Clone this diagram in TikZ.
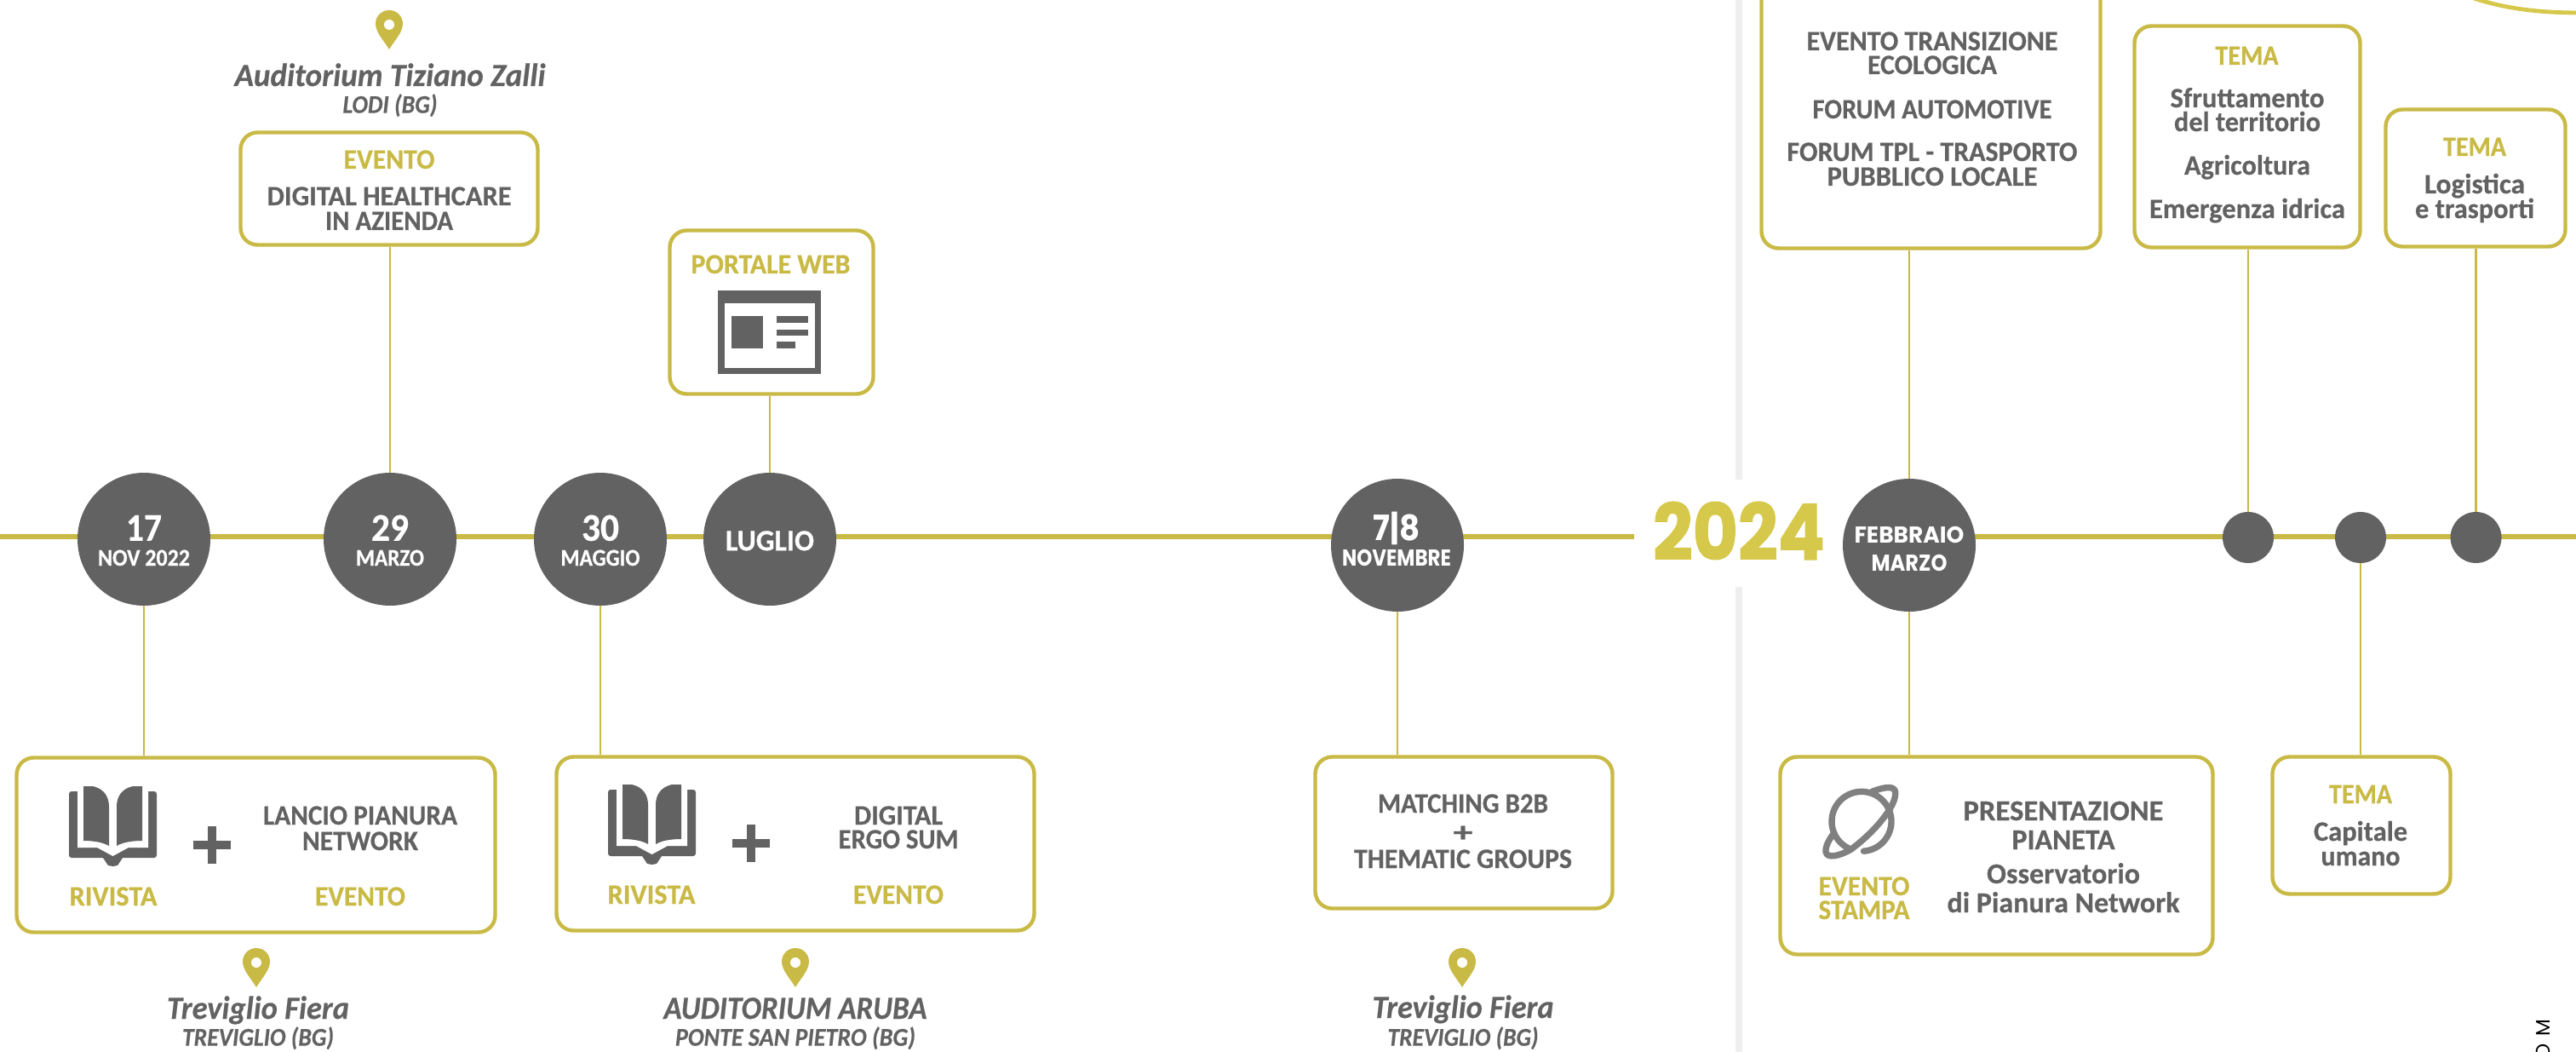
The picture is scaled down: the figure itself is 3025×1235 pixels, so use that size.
\documentclass[tikz,border=0pt]{standalone}
\usepackage{fontspec}
\usepackage{graphicx}
\setmainfont{Carlito}[BoldFeatures={FakeBold=0.5},BoldItalicFeatures={FakeBold=0.5}]
\newfontfamily\popfont{Poppins}
\newfontfamily\popheavy{Poppins}[BoldFeatures={FakeBold=1.5}]
\definecolor{gold}{HTML}{C9B945}
\definecolor{goldb}{HTML}{D6C84A}
\definecolor{dk}{HTML}{626262}
\definecolor{planetc}{HTML}{808080}
\definecolor{rule}{HTML}{EEEEEE}
\newcommand\fitw[2]{\resizebox{\dimexpr#1pt/2\relax}{\height}{#2}}
\newcommand\lbl[6][main]{\node[lbl,#1] (#2) at (#3,#4) {\fitw{#5}{#6}};}
\newcommand\boxn[5]{\node[bx,minimum width={(#4-#2-3)*0.5pt},minimum height={(#5-#3-3)*0.5pt}] (#1) at ({(#2+#4)/2},{(#3+#5)/2}) {};}
\tikzset{
  lbl/.style={inner sep=0pt,anchor=base},
  main/.style={font=\fontsize{16.5}{16.5}\selectfont\bfseries,yshift=-5.5pt,text=dk},
  goldt/.style={main,text=gold},
  pres/.style={font=\fontsize{17}{17}\selectfont\bfseries,yshift=-5.5pt,text=dk},
  numl/.style={font=\fontsize{23}{23}\selectfont\bfseries,yshift=-7.4pt,text=white},
  subl/.style={font=\fontsize{14}{14}\selectfont\bfseries,yshift=-4.5pt,text=white},
  lugl/.style={font=\fontsize{17.5}{17.5}\selectfont\bfseries,yshift=-5.6pt,text=white},
  bigit/.style={font=\fontsize{19}{19}\selectfont\bfseries\itshape,yshift=-6pt,text=dk},
  smit/.style={font=\fontsize{15}{15}\selectfont\bfseries\itshape,yshift=-4.8pt,text=dk},
  mont/.style={font=\fontsize{13.5}{13.5}\selectfont\popfont\bfseries,yshift=-4.7pt,text=white},
  montn/.style={font=\fontsize{20.5}{20.5}\selectfont\popfont\bfseries,yshift=-7.2pt,text=white},
  bx/.style={draw=gold,line width=2.2pt,rounded corners=10pt,inner sep=0pt,fill=white},
  dot/.style={circle,fill=dk,inner sep=0pt,minimum size=#1*0.5pt},
  tline/.style={draw=gold,line width=2.6pt},
  conn/.style={draw=gold,line width=1.1pt},
  pin/.pic={
    \fill[gold] (0,46) .. controls (-6,36) and (-16,26) .. (-16,16)
      .. controls (-16,7) and (-9,0) .. (0,0)
      .. controls (9,0) and (16,7) .. (16,16)
      .. controls (16,26) and (6,36) .. (0,46) -- cycle;
    \fill[white] (0,17) circle[radius=3pt];
  },
  book/.pic={
    \fill[dk,rounded corners=1.5pt] (0,6) rectangle (103,84);
    \fill[dk] (40,84) -- (46,93) -- (51.5,94) -- (57,93) -- (63,84) -- cycle;
    \fill[white] (10,5) -- (93,5) -- (93,72) -- (70,72) -- (51.5,82) -- (33,72) -- (10,72) -- cycle;
    \fill[dk] (17,0) -- (28,0) .. controls (41,3) and (47,12) .. (47,24) -- (47,70)
      .. controls (40,66) and (30,64) .. (17,64) -- cycle;
    \fill[dk] (86,0) -- (75,0) .. controls (62,3) and (56,12) .. (56,24) -- (56,70)
      .. controls (63,66) and (73,64) .. (86,64) -- cycle;
  }
}
\begin{document}
\begin{tikzpicture}[x=0.5pt,y=-0.5pt]
\useasboundingbox (0,0) rectangle (3025,1235);
% separators
\coordinate (ruleA) at (2042,-5);
\coordinate (ruleB) at (2042,563);
\coordinate (ruleC) at (2042,689);
\coordinate (ruleD) at (2042,1240);
\draw[rule,line width=4pt] (ruleA) -- (ruleB);
\draw[rule,line width=4pt] (ruleC) -- (ruleD);
% timeline
\coordinate (tA) at (0,630);
\coordinate (tB) at (1919,630);
\coordinate (tC) at (2242,630);
\coordinate (tD) at (3025,630);
\draw[tline] (tA) -- (tB);
\draw[tline] (tC) -- (tD);
% arc top right
\coordinate (arcA) at (2905,-2);
\coordinate (arcB) at (3030,15);
\draw[goldb,line width=2.4pt] (arcA) .. controls (2945,11) and (2985,15) .. (arcB);
% circles
\node[dot=156] (c17) at (169,633) {};
\node[dot=156] (c29) at (458,633) {};
\node[dot=156] (c30) at (705,633) {};
\node[dot=156] (clug) at (904,633) {};
\node[dot=156] (cnov) at (1641,640) {};
\node[dot=156] (cfeb) at (2242,640) {};
\node[dot=60] (d1) at (2640,631) {};
\node[dot=60] (d2) at (2772,631) {};
\node[dot=60] (d3) at (2907.5,631) {};
% boxes
\boxn{bnov22}{18}{888}{583}{1096}
\boxn{bmag}{652}{887}{1216}{1094}
\boxn{bmar}{281}{154}{633}{289}
\boxn{bweb}{785}{269}{1027}{464}
\boxn{bnov}{1543}{887}{1895}{1068}
\boxn{bevt}{2067}{-40}{2468}{293}
\boxn{bsfr}{2505}{29}{2773}{292}
\boxn{blog}{2800}{127}{3014}{291}
\boxn{bpres}{2089}{887}{2600}{1122}
\boxn{bcap}{2667}{887}{2879}{1051}
% connectors
\draw[conn] (c17.south) -- (bnov22.north -| c17.south);
\draw[conn] (c29.north) -- (bmar.south -| c29.north);
\draw[conn] (c30.south) -- (bmag.north -| c30.south);
\draw[conn] (clug.north) -- (bweb.south -| clug.north);
\draw[conn] (cnov.south) -- (bnov.north -| cnov.south);
\draw[conn] (cfeb.north) -- (bevt.south -| cfeb.north);
\draw[conn] (cfeb.south) -- (bpres.north -| cfeb.south);
\draw[conn] (d1.north) -- (bsfr.south -| d1.north);
\draw[conn] (d2.south) -- (bcap.north -| d2.south);
\draw[conn] (d3.north) -- (blog.south -| d3.north);
% circle labels
\lbl[numl]{t17}{169}{620}{42}{17}
\lbl[subl]{tnov22}{169}{655}{108}{NOV 2022}
\lbl[numl]{t29}{458}{620}{44}{29}
\lbl[subl]{tmarzo}{458}{655}{80}{MARZO}
\lbl[numl]{t30}{705}{620}{44}{30}
\lbl[subl]{tmaggio}{705}{655}{93}{MAGGIO}
\lbl[lugl]{tluglio}{904}{635}{104}{LUGLIO}
\lbl[montn]{t78}{1640}{620}{55}{7|8}
\lbl[mont]{tnovem}{1640}{655}{128}{NOVEMBRE}
\lbl[mont]{tfeb}{2242}{628}{129}{FEBBRAIO}
\lbl[mont]{tmar}{2242}{661}{89}{MARZO}
% 2024
\node[lbl,font=\fontsize{45.5}{45.5}\selectfont\popheavy\bfseries,text=goldb,yshift=-16pt] (y2024) at (2042,625) {\fitw{202}{2024}};
% box 1
\pic at (81,923) {book};
\fill[dk] (227,987) rectangle (271,997);
\fill[dk] (244,970) rectangle (254,1014);
\lbl{tlancio}{423}{957}{228}{LANCIO PIANURA}
\lbl{tnetw}{423}{987}{136}{NETWORK}
\lbl[goldt]{trv1}{133}{1052}{103}{RIVISTA}
\lbl[goldt]{tev1}{423}{1052}{106}{EVENTO}
\pic at (301,1113) {pin};
\lbl[bigit]{ttf1}{303}{1184}{214}{Treviglio Fiera}
\lbl[smit]{ttb1}{303}{1218}{178}{TREVIGLIO (BG)}
% box 2
\pic at (714,921) {book};
\fill[dk] (860,985) rectangle (904,995);
\fill[dk] (877,968) rectangle (887,1012);
\lbl{tdig}{1055}{957}{104}{DIGITAL}
\lbl{tergo}{1055}{985}{141}{ERGO SUM}
\lbl[goldt]{trv2}{765}{1050}{103}{RIVISTA}
\lbl[goldt]{tev2}{1055}{1050}{106}{EVENTO}
\pic at (934,1113) {pin};
\lbl[bigit]{taud}{934}{1184}{309}{AUDITORIUM ARUBA}
\lbl[smit]{tponte}{934}{1218}{282}{PONTE SAN PIETRO (BG)}
% march box
\pic at (457,12) {pin};
\lbl[bigit]{tzalli}{458}{89}{365}{Auditorium Tiziano Zalli}
\lbl[smit]{tlodi}{458}{123}{111}{LODI (BG)}
\lbl[goldt]{tev3}{457}{187}{107}{EVENTO}
\lbl{tdh}{457}{230}{287}{DIGITAL HEALTHCARE}
\lbl{tinaz}{457}{259}{150}{IN AZIENDA}
% web box
\lbl[goldt]{tweb}{905}{310}{187}{PORTALE WEB}
\fill[dk] (843,341) rectangle (964,439);
\fill[white] (851,356) rectangle (957,432);
\fill[dk] (859,371) rectangle (896,409);
\fill[dk] (912,371) rectangle (949,379);
\fill[dk] (912,387) rectangle (949,394);
\fill[dk] (912,401) rectangle (934,409);
% november box
\lbl{tmatch}{1718}{943}{200}{MATCHING B2B}
\lbl{tplus}{1718}{977}{23}{+}
\lbl{tthem}{1718}{1008}{256}{THEMATIC GROUPS}
\pic at (1717,1113) {pin};
\lbl[bigit]{ttf3}{1718}{1183}{213}{Treviglio Fiera}
\lbl[smit]{ttb3}{1718}{1218}{177}{TREVIGLIO (BG)}
% event box
\lbl{tevt1}{2269}{48}{295}{EVENTO TRANSIZIONE}
\lbl{tevt2}{2269}{76}{152}{ECOLOGICA}
\lbl{tfa}{2269}{128}{281}{FORUM AUTOMOTIVE}
\lbl{ttpl}{2269}{178}{341}{FORUM TPL - TRASPORTO}
\lbl{tpub}{2269}{207}{247}{PUBBLICO LOCALE}
% tema 1
\lbl[goldt]{ttm1}{2638.5}{65}{74}{TEMA}
\lbl{tsf}{2639}{115}{181}{Sfruttamento}
\lbl{tdt}{2639}{143}{172}{del territorio}
\lbl{tag}{2639}{194}{148}{Agricoltura}
\lbl{tem}{2639}{245}{230}{Emergenza idrica}
% tema 2
\lbl[goldt]{ttm2}{2906}{172}{74}{TEMA}
\lbl{tlg}{2906}{216}{118}{Logistica}
\lbl{ttr}{2906}{245}{140}{e trasporti}
% presentazione
\begin{scope}[shift={(2130,910)},x=0.16667pt,y=-0.16667pt]
  \draw[planetc,line width=3.7pt,line cap=round,line join=round] plot[smooth,domain=116:446,samples=45] ({168+105*cos(\x)},{163+105*sin(\x)});
  \draw[planetc,line width=3.7pt,line cap=round,line join=round] (205,58) .. controls (245,42) and (285,35) .. (287,60) .. controls (290,95) and (255,140) .. (230,170) .. controls (195,210) and (160,240) .. (130,262) .. controls (90,285) and (45,295) .. (42,270) .. controls (40,250) and (55,225) .. (70,205);
\end{scope}
\lbl[goldt]{tes1}{2189}{1040}{107}{EVENTO}
\lbl[goldt]{tes2}{2189}{1068}{107}{STAMPA}
\lbl[pres]{tpr1}{2423}{952}{235}{PRESENTAZIONE}
\lbl[pres]{tpr2}{2423}{986}{121}{PIANETA}
\lbl[pres]{tos}{2423}{1026}{180}{Osservatorio}
\lbl[pres]{tdp}{2423}{1060}{273}{di Pianura Network}
% tema 3
\lbl[goldt]{ttm3}{2772}{932}{74}{TEMA}
\lbl{tcap}{2772}{976}{110}{Capitale}
\lbl{tum}{2772}{1005}{93}{umano}
% margin text
\node[inner sep=0pt,anchor=east,rotate=90,font=\fontsize{11.5}{11.5}\selectfont\popfont,text=black] (tmargin) at (2986,1196) {O\hspace{4.5pt}M};
\end{tikzpicture}
\end{document}
